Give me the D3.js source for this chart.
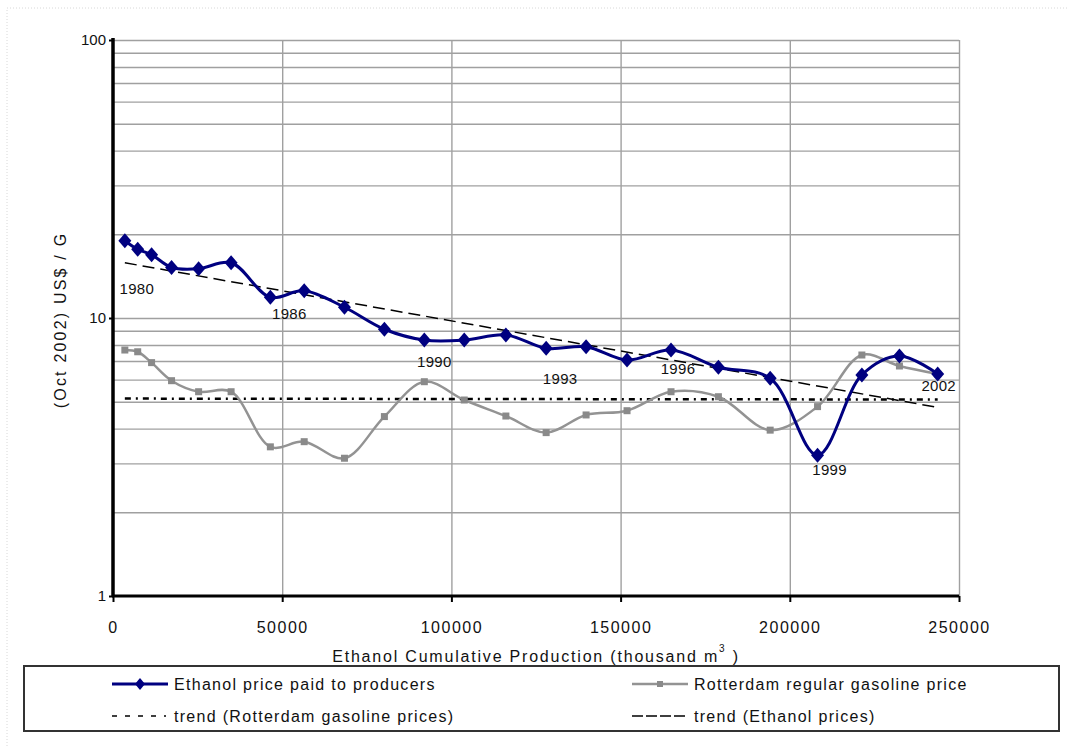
<!DOCTYPE html>
<html>
<head>
<meta charset="utf-8">
<script src="https://cdn.jsdelivr.net/npm/d3@7"></script>
<style>
  body { margin: 0; background: #fff; }
  svg text { font-family: "Liberation Sans", Arial, sans-serif; fill: #111; }
</style>
</head>
<body>
<div id="chart"></div>
<script>
// chart data
const years = [1980, 1981, 1982, 1983, 1984, 1985, 1986, 1987, 1988, 1989, 1990, 1991,
  1992, 1993, 1994, 1995, 1996, 1997, 1998, 1999, 2000, 2001, 2002];
const cumProduction = [3500, 7300, 11400, 17300, 25300, 34900, 46500, 56500, 68400, 80200,
  92000, 103800, 116100, 128000, 139800, 151900, 164900, 178900, 194200, 208200, 221300, 232400, 243700];
const ethanolPrice = [18.97, 17.66, 16.9, 15.2, 15.04, 15.8, 11.87, 12.54, 10.93, 9.11,
  8.33, 8.33, 8.69, 7.78, 7.88, 7.06, 7.67, 6.65, 6.07, 3.21, 6.24, 7.30, 6.29];
const gasolinePrice = [7.67, 7.56, 6.91, 5.95, 5.43, 5.43, 3.44, 3.59, 3.13, 4.42,
  5.90, 5.07, 4.44, 3.87, 4.48, 4.64, 5.43, 5.21, 3.95, 4.80, 7.36, 6.72, 6.29];
// trend lines, start and end values as drawn
const trendEthanol = [15.8, 4.77];
const trendGasoline = [5.13, 5.09];
const labelledYears = [1980, 1986, 1990, 1993, 1996, 1999, 2002];
const xTicks = [0, 50000, 100000, 150000, 200000, 250000];
const yTicks = [1, 10, 100];

// label nudges (layout only)
const labelNudge = [[12, 48], [19, 16], [10, 21], [14, 30], [7, 18], [12, 14], [1, 12]];

const width = 1068;
const height = 746;
const plot = { left: 113, right: 959, top: 40, bottom: 596 };

const svg = d3.select('#chart')
  .append('svg')
  .attr('width', width)
  .attr('height', height);

svg.append('rect').attr('width', width).attr('height', height).attr('fill', '#fff');

// faint dotted frame of the original image
svg.append('path')
  .attr('d', `M7,${height} V8 H${width}`)
  .attr('fill', 'none')
  .attr('stroke', '#d8d8d8')
  .attr('stroke-dasharray', '1,2');

const x = d3.scaleLinear()
  .domain([0, 250000])
  .range([plot.left, plot.right]);

const y = d3.scaleLog()
  .domain([1, 100])
  .range([plot.bottom, plot.top]);

// horizontal grid: every 1..9 within each decade
const gridValues = [];
[1, 10].forEach(d => d3.range(1, 10).forEach(k => gridValues.push(k * d)));
gridValues.push(100);

svg.append('g')
  .attr('transform', `translate(${plot.left},0)`)
  .call(d3.axisLeft(y).tickValues(gridValues.filter(v => v > 1))
    .tickSize(-(plot.right - plot.left)).tickFormat(''))
  .call(g => g.select('.domain').remove())
  .call(g => g.selectAll('line').attr('stroke', '#a0a0a0').attr('stroke-width', 1.4));

svg.append('g')
  .attr('transform', `translate(0,${plot.bottom})`)
  .call(d3.axisBottom(x).tickValues(xTicks.slice(1))
    .tickSize(-(plot.bottom - plot.top)).tickFormat(''))
  .call(g => g.select('.domain').remove())
  .call(g => g.selectAll('line').attr('stroke', '#a0a0a0').attr('stroke-width', 1.4));

// trend lines
const xEnds = [cumProduction[0], cumProduction[cumProduction.length - 1]];
const straight = d3.line().x(d => x(d[0])).y(d => y(d[1]));

svg.append('path')
  .attr('d', straight(xEnds.map((v, i) => [v, trendGasoline[i]])))
  .attr('fill', 'none')
  .attr('stroke', '#000')
  .attr('stroke-width', 2.5)
  .attr('stroke-dasharray', '6,5,2,5');

svg.append('path')
  .attr('d', straight(xEnds.map((v, i) => [v, trendEthanol[i]])))
  .attr('fill', 'none')
  .attr('stroke', '#000')
  .attr('stroke-width', 1.5)
  .attr('stroke-dasharray', '12,6');

// series
const smooth = d3.line()
  .x(d => x(d[0]))
  .y(d => y(d[1]))
  .curve(d3.curveCatmullRom.alpha(0.5));

const gasData = cumProduction.map((v, i) => [v, gasolinePrice[i]]);
const ethData = cumProduction.map((v, i) => [v, ethanolPrice[i]]);

svg.append('path')
  .attr('d', smooth(gasData))
  .attr('fill', 'none')
  .attr('stroke', '#939393')
  .attr('stroke-width', 2.5);

svg.selectAll('.gas-pt')
  .data(gasData)
  .enter()
  .append('rect')
  .attr('class', 'gas-pt')
  .attr('x', d => x(d[0]) - 3.5)
  .attr('y', d => y(d[1]) - 3.5)
  .attr('width', 7)
  .attr('height', 7)
  .attr('fill', '#8a8a8a');

svg.append('path')
  .attr('d', smooth(ethData))
  .attr('fill', 'none')
  .attr('stroke', '#000080')
  .attr('stroke-width', 3);

const diamond = (w, h) => `M0,${-h}L${w},0L0,${h}L${-w},0Z`;

svg.selectAll('.eth-pt')
  .data(ethData)
  .enter()
  .append('path')
  .attr('class', 'eth-pt')
  .attr('transform', d => `translate(${x(d[0])},${y(d[1])})`)
  .attr('d', diamond(6.5, 7.5))
  .attr('fill', '#000080');

// year labels
svg.selectAll('.year-label')
  .data(labelledYears)
  .enter()
  .append('text')
  .attr('class', 'year-label')
  .attr('x', (d, i) => x(cumProduction[years.indexOf(d)]) + labelNudge[i][0])
  .attr('y', (d, i) => y(ethanolPrice[years.indexOf(d)]) + labelNudge[i][1])
  .attr('text-anchor', 'middle')
  .attr('dominant-baseline', 'central')
  .style('font-size', '15px')
  .style('letter-spacing', '0.3px')
  .text(d => d);

// axes
const xAxis = svg.append('g')
  .attr('transform', `translate(0,${plot.bottom})`)
  .call(d3.axisBottom(x).tickValues(xTicks).tickSize(6).tickPadding(20).tickFormat(d3.format('d')));
xAxis.select('.domain').attr('stroke', '#000').attr('stroke-width', 3)
  .attr('d', `M${plot.left - 1},0H${plot.right}`);
xAxis.selectAll('line').attr('stroke', '#000').attr('stroke-width', 2);
xAxis.selectAll('text').style('font-size', '16px').style('letter-spacing', '1.5px');

const yAxis = svg.append('g')
  .attr('transform', `translate(${plot.left},0)`)
  .call(d3.axisLeft(y).tickValues(yTicks).tickSize(4).tickPadding(3).tickFormat(d3.format('d')));
yAxis.select('.domain').attr('stroke', '#000').attr('stroke-width', 3.5)
  .attr('d', `M0,${plot.top - 2}V${plot.bottom + 1}`);
yAxis.selectAll('line').attr('stroke', '#000').attr('stroke-width', 2);
yAxis.selectAll('text').style('font-size', '15px').style('letter-spacing', '0px');

svg.append('text')
  .attr('transform', 'translate(66,320) rotate(-90)')
  .attr('text-anchor', 'middle')
  .style('font-size', '16px')
  .style('letter-spacing', '2.2px')
  .text('(Oct 2002) US$ / G');

// legend
const legend = svg.append('g');
legend.append('rect')
  .attr('x', 24).attr('y', 666)
  .attr('width', 1035).attr('height', 65)
  .attr('fill', '#fff')
  .attr('stroke', '#333')
  .attr('stroke-width', 2);

const legendItems = [
  { label: 'Ethanol price paid to producers', x: 112, y: 684, kind: 'eth' },
  { label: 'Rotterdam regular gasoline price', x: 632, y: 684, kind: 'gas' },
  { label: 'trend (Rotterdam gasoline prices)', x: 112, y: 716, kind: 'tgas' },
  { label: 'trend (Ethanol prices)', x: 632, y: 716, kind: 'teth' }
];

legendItems.forEach(item => {
  const g = legend.append('g').attr('transform', `translate(${item.x},${item.y})`);
  const line = g.append('line').attr('x1', 0).attr('x2', 56).attr('fill', 'none');
  if (item.kind === 'eth') {
    line.attr('stroke', '#000080').attr('stroke-width', 3);
    g.append('path').attr('transform', 'translate(28,0)').attr('d', diamond(5, 6)).attr('fill', '#000080');
  } else if (item.kind === 'gas') {
    line.attr('stroke', '#939393').attr('stroke-width', 2.5);
    g.append('rect').attr('x', 25).attr('y', -3).attr('width', 6).attr('height', 6).attr('fill', '#8a8a8a');
  } else if (item.kind === 'tgas') {
    line.attr('x2', 54).attr('stroke', '#000').attr('stroke-width', 1.5).attr('stroke-dasharray', '5,8');
  } else {
    line.attr('x2', 54).attr('stroke', '#000').attr('stroke-width', 1.5).attr('stroke-dasharray', '11,3');
  }
  g.append('text')
    .attr('x', 62)
    .attr('dy', '0.35em')
    .style('font-size', '16px')
    .style('letter-spacing', '1.3px')
    .text(item.label);
});

// x axis title, drawn last so it sits on top of the legend edge
const xTitle = svg.append('text')
  .attr('x', (plot.left + plot.right) / 2)
  .attr('y', 662)
  .attr('text-anchor', 'middle')
  .style('font-size', '16px')
  .style('letter-spacing', '1.8px')
  .text('Ethanol Cumulative Production (thousand m');
xTitle.append('tspan').attr('dy', -10).style('font-size', '10px').text('3');
xTitle.append('tspan').attr('dy', 10).text(' )');
</script>
</body>
</html>
